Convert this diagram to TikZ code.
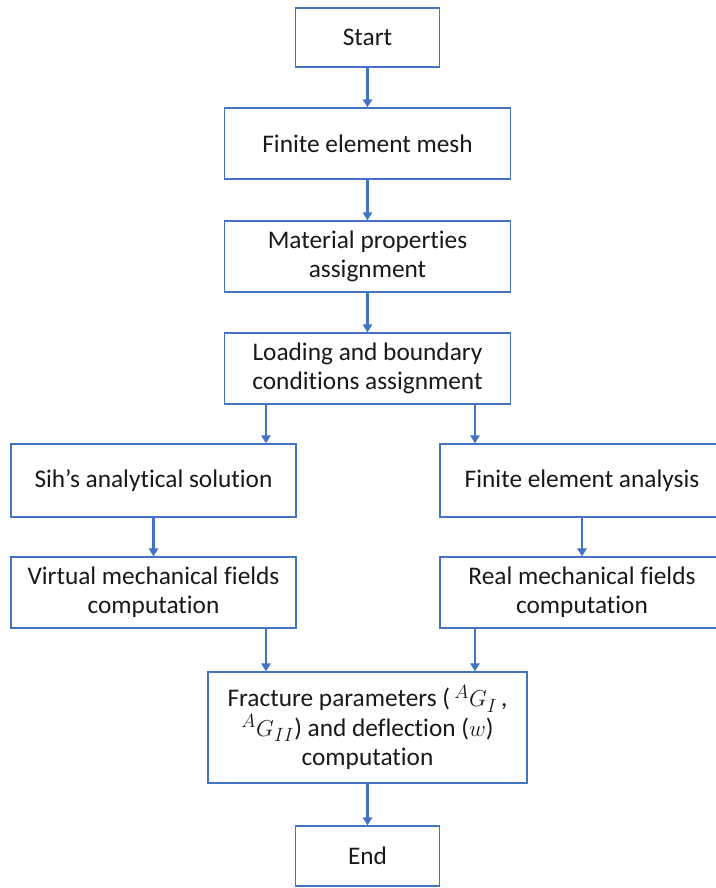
\documentclass[tikz,border=0pt]{standalone}
\usepackage{fontspec}
\setmainfont[Ligatures=NoCommon]{Carlito}
\usetikzlibrary{arrows.meta}
\definecolor{boxblue}{HTML}{4472C4}
\tikzset{
  box/.style={draw=boxblue, line width=1pt, fill=white, inner sep=0pt, align=center,
              font=\fontsize{19}{22}\selectfont, text=black!90},
  arr/.style={draw=boxblue, line width=1.6pt, -{Triangle[length=6pt,width=7pt]}}
}
\begin{document}
\begin{tikzpicture}[x=0.75pt,y=-0.75pt]
\useasboundingbox (0,0) rectangle (716,888);
\node[box, minimum width=144*0.75pt, minimum height=59*0.75pt] (start) at (367.5,37.5) {Start};
\node[box, minimum width=286*0.75pt, minimum height=71*0.75pt] (fem) at (367.5,143.5) {Finite element mesh};
\node[box, minimum width=286*0.75pt, minimum height=71*0.75pt] (mat) at (367.5,256.5) {Material properties\\assignment};
\node[box, minimum width=286*0.75pt, minimum height=71*0.75pt] (load) at (367.5,368.5) {Loading and boundary\\conditions assignment};
\node[box, minimum width=285*0.75pt, minimum height=73*0.75pt] (sih) at (153.5,480.5) {Sih’s analytical solution};
\node[box, minimum width=284*0.75pt, minimum height=73*0.75pt] (fea) at (582,480.5) {Finite element analysis};
\node[box, minimum width=285*0.75pt, minimum height=71*0.75pt] (virt) at (153.5,592.5) {Virtual mechanical fields\\computation};
\node[box, minimum width=284*0.75pt, minimum height=71*0.75pt] (real) at (582,592.5) {Real mechanical fields\\computation};
\node[box, minimum width=319*0.75pt, minimum height=111*0.75pt] (frac) at (367.5,727.5) {Fracture parameters (\,$^{A}G_{I}\,$,\\$^{A}G_{II}$) and deflection ($w$)\\computation};
\node[box, minimum width=144*0.75pt, minimum height=60*0.75pt] (end) at (367.5,856) {End};
\draw[arr] (start.south) -- (fem.north);
\draw[arr] (fem.south) -- (mat.north);
\draw[arr] (mat.south) -- (load.north);
\draw[arr] (load.south -| 266,0) -- (sih.north -| 266,0);
\draw[arr] (load.south -| 475,0) -- (fea.north -| 475,0);
\draw[arr] (sih.south) -- (virt.north);
\draw[arr] (fea.south) -- (real.north);
\draw[arr] (virt.south -| 266,0) -- (frac.north -| 266,0);
\draw[arr] (real.south -| 475,0) -- (frac.north -| 475,0);
\draw[arr] (frac.south) -- (end.north);
\end{tikzpicture}
\end{document}
